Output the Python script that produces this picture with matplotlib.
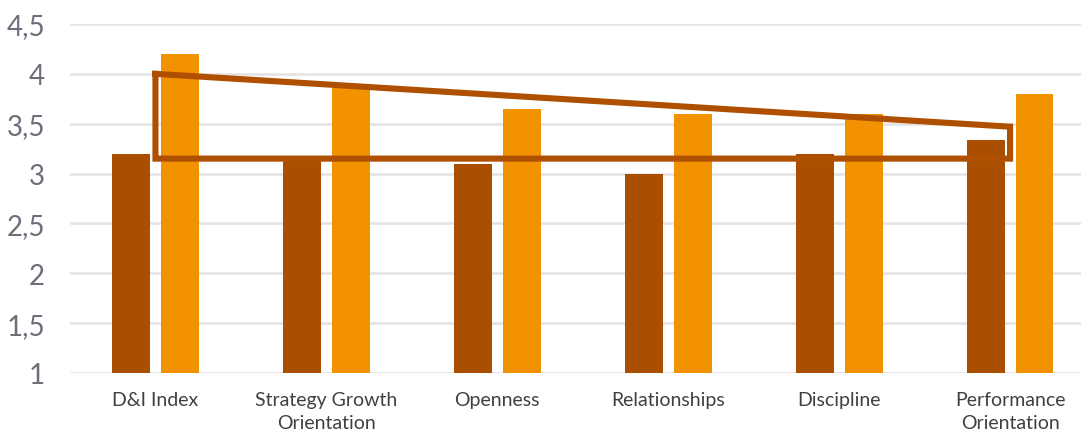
"""
plot.py - grouped bar chart (dark vs light orange) with highlight outline.
"""
import matplotlib
matplotlib.use("Agg")
import matplotlib.pyplot as plt
import numpy as np

# ── Data ────────────────────────────────────────────────────────────────────────
categories = ["D&I Index", "Strategy Growth\nOrientation", "Openness",
              "Relationships", "Discipline", "Performance\nOrientation"]
series_dark = [3.2, 3.17, 3.1, 3.0, 3.2, 3.34]
series_light = [4.2, 3.9, 3.65, 3.6, 3.6, 3.8]

# highlight outline (category index, value) corners
outline_x = [0, 5, 5, 0, 0]
outline_y = [4.0, 3.47, 3.15, 3.15, 4.0]

yticks = [1, 1.5, 2, 2.5, 3, 3.5, 4, 4.5]
ytick_labels = ["1", "1,5", "2", "2,5", "3", "3,5", "4", "4,5"]

# ── Styles ──────────────────────────────────────────────────────────────────────
DARK = "#AA4E00"
LIGHT = "#F39200"
LINE = "#AE5000"
GRID = "#E3E3E3"
YTXT = "#6B6F7A"
XTXT = "#404040"

plt.rcParams["font.family"] = ["Lato", "DejaVu Sans"]

fig = plt.figure(figsize=(10.81, 4.35), dpi=100)
ax = fig.add_axes([70 / 1081, 1 - 374 / 435, 1025.5 / 1081, 349 / 435])

xs = np.arange(len(categories))
w = 0.222
off = 0.143
ax.bar(xs - off, np.array(series_dark) - 1, bottom=1, width=w, color=DARK, zorder=2)
ax.bar(xs + off, np.array(series_light) - 1, bottom=1, width=w, color=LIGHT, zorder=2)

ax.plot(outline_x, outline_y, color=LINE, linewidth=4.4, zorder=4,
        solid_joinstyle="miter", solid_capstyle="projecting")

ax.set_xlim(-0.5, 5.5)
ax.set_ylim(1, 4.5)
ax.set_yticks(yticks)
ax.set_yticklabels(ytick_labels, color=YTXT, fontsize=20)
ax.set_xticks(xs)
ax.set_xticklabels(categories, color=XTXT, fontsize=14, linespacing=1.4)
ax.tick_params(axis="y", length=0, pad=18)
ax.tick_params(axis="x", length=0, pad=13)
ax.yaxis.grid(True, color=GRID, linewidth=1.8, zorder=0)
ax.set_axisbelow(True)
for spine in ax.spines.values():
    spine.set_visible(False)

fig.savefig("out.png", dpi=100)
